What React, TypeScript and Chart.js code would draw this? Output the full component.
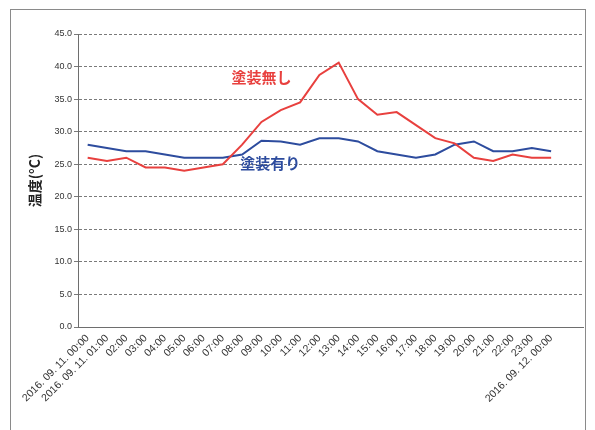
import React, { useEffect, useRef } from "react";
import { Chart, registerables } from "chart.js";

Chart.register(...registerables);

const timeLabels: string[] = [
  "2016. 09. 11. 00:00", "2016. 09. 11. 01:00", "02:00", "03:00", "04:00", "05:00",
  "06:00", "07:00", "08:00", "09:00", "10:00", "11:00", "12:00", "13:00",
  "14:00", "15:00", "16:00", "17:00", "18:00", "19:00", "20:00", "21:00",
  "22:00", "23:00", "2016. 09. 12. 00:00",
];

const uncoated: number[] = [
  26, 25.5, 26, 24.5, 24.5, 24, 24.5, 25, 28, 31.5, 33.3, 34.5, 38.7, 40.6,
  35, 32.6, 33, 31, 29, 28.2, 26, 25.5, 26.5, 26, 26,
];

const coated: number[] = [
  28, 27.5, 27, 27, 26.5, 26, 26, 26, 26.5, 28.6, 28.5, 28, 29, 29,
  28.5, 27, 26.5, 26, 26.5, 28, 28.5, 27, 27, 27.5, 27,
];

const seriesNames: string[] = ["塗装無し", "塗装有り"];
// annotation anchor positions in data units (x index, y temperature)
const noteX: number[] = [9.0, 9.45];
const noteY: number[] = [38.4, 25.2];

const yTitle = "温度(°C)";

export default function App() {
  const ref = useRef<HTMLCanvasElement | null>(null);

  useEffect(() => {
    if (!ref.current) return;
    const colors = ["#e8403e", "#2d4c9e"];

    const decor = {
      id: "decor",
      beforeDraw(chart: any) {
        const ctx = chart.ctx;
        ctx.save();
        ctx.fillStyle = "#ffffff";
        ctx.fillRect(0, 0, chart.width, chart.height);
        ctx.strokeStyle = "#8a8a8a";
        ctx.lineWidth = 1;
        ctx.strokeRect(10.5, 9.5, 575, 440);
        ctx.restore();
      },
      afterDatasetsDraw(chart: any) {
        const ctx = chart.ctx;
        const xs = chart.scales.x;
        const ys = chart.scales.y;
        ctx.save();
        ctx.font = "bold 15px 'Noto Sans CJK JP'";
        ctx.textAlign = "center";
        ctx.textBaseline = "middle";
        seriesNames.forEach((n, i) => {
          ctx.fillStyle = colors[i];
          ctx.fillText(n, xs.getPixelForValue(noteX[i]), ys.getPixelForValue(noteY[i]));
        });
        ctx.restore();
      },
    };

    const chart = new Chart(ref.current, {
      type: "line",
      data: {
        datasets: [
          {
            label: seriesNames[0],
            data: uncoated.map((v, i) => ({ x: i, y: v })),
            borderColor: colors[0],
            backgroundColor: colors[0],
            borderWidth: 2,
            pointRadius: 0,
            tension: 0,
          },
          {
            label: seriesNames[1],
            data: coated.map((v, i) => ({ x: i, y: v })),
            borderColor: colors[1],
            backgroundColor: colors[1],
            borderWidth: 2,
            pointRadius: 0,
            tension: 0,
          },
        ],
      },
      options: {
        animation: false,
        responsive: false,
        maintainAspectRatio: false,
        layout: { padding: { left: 0, top: 34, right: 12, bottom: 0 } },
        plugins: {
          legend: { display: false },
          tooltip: { enabled: false },
        },
        scales: {
          x: {
            type: "linear",
            min: -0.5,
            max: 25.65,
            afterBuildTicks: (scale: any) => {
              scale.ticks = timeLabels.map((_, i) => ({ value: i }));
            },
            afterFit: (scale: any) => {
              scale.height = 103;
            },
            grid: { display: false, drawTicks: false },
            border: { display: true, color: "#6e6e6e", width: 1 },
            ticks: {
              autoSkip: false,
              minRotation: 45,
              maxRotation: 45,
              padding: 5,
              color: "#333333",
              font: { family: "'Liberation Sans', Arial", size: 10.5 },
              callback: (v: any) => timeLabels[v] ?? "",
            },
          },
          y: {
            min: 0,
            max: 45,
            afterFit: (scale: any) => {
              scale.width = 78;
            },
            grid: {
              color: "#7a7a7a",
              lineWidth: 1,
              tickLength: 4,
              drawTicks: true,
            },
            border: { display: true, color: "#6e6e6e", dash: [3, 2] },
            ticks: {
              stepSize: 5,
              padding: 2,
              color: "#333333",
              font: { family: "'Liberation Sans Narrow', 'Liberation Sans', Arial", size: 9 },
              callback: (v: any) => Number(v).toFixed(1),
            },
            title: {
              display: true,
              text: yTitle,
              color: "#222222",
              padding: { top: 26, bottom: 0 },
              font: { family: "'Noto Sans CJK JP'", size: 14, weight: "bold" },
            },
          },
        },
      },
      plugins: [decor],
    } as any);

    return () => chart.destroy();
  }, []);

  return (
    <div style={{ position: "absolute", left: 0, top: 0, width: 595, height: 430 }}>
      <canvas ref={ref} width={595} height={430} style={{ width: 595, height: 430 }} />
    </div>
  );
}
